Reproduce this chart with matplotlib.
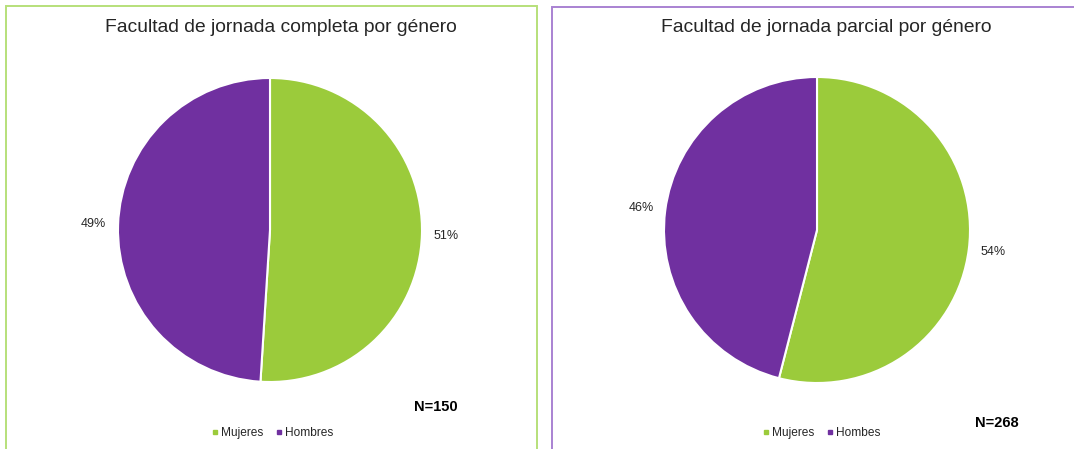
import matplotlib
matplotlib.use("Agg")
import matplotlib.pyplot as plt
from matplotlib.patches import Rectangle
from matplotlib.lines import Line2D

plt.rcParams["font.family"] = ["Liberation Sans", "DejaVu Sans"]

W, H = 1074, 449
GREEN = "#9BCB3B"
PURPLE = "#7030A0"
GREEN_BORDER = "#B7E07A"
PURPLE_BORDER = "#A982D2"
TEXT = "#262626"

# datos
categorias = ["Mujeres", "Hombres"]
completa_pct = [51, 49]
parcial_pct = [54, 46]
titulo_completa = "Facultad de jornada completa por género"
titulo_parcial = "Facultad de jornada parcial por género"
n_completa = "N=150"
n_parcial = "N=268"
leyenda_completa = ["Mujeres", "Hombres"]
leyenda_parcial = ["Mujeres", "Hombes"]


def px_box(x0, y0, w, h):
    # caja en pixeles (origen arriba-izquierda) -> fracción de figura
    return [x0 / W, (H - y0 - h) / H, w / W, h / H]


fig = plt.figure(figsize=(W / 100, H / 100), dpi=100, facecolor="white")

# marcos de los paneles
fig.add_artist(Rectangle((6 / W, -0.05), (537 - 6) / W, 1.05 - 6.5 / H,
                         transform=fig.transFigure, fill=False,
                         edgecolor=GREEN_BORDER, linewidth=1.4))
fig.add_artist(Rectangle((552 / W, -0.05), 0.6, 1.05 - 7.5 / H,
                         transform=fig.transFigure, fill=False,
                         edgecolor=PURPLE_BORDER, linewidth=1.4))


def draw_pie(cx, cy, r, values, title, title_x, n_text, n_pos, legend_labels, legend_x):
    ax = fig.add_axes(px_box(cx - r, cy - r, 2 * r, 2 * r))
    ax.pie(values, colors=[GREEN, PURPLE], startangle=90, counterclock=False,
           labels=[f"{v}%" for v in values], labeldistance=1.16,
           textprops=dict(fontsize=9, color=TEXT),
           wedgeprops=dict(edgecolor="white", linewidth=1.5))
    for t in ax.texts:
        t.set_ha("center")
        t.set_va("center")
    ax.set_xlim(-1, 1)
    ax.set_ylim(-1, 1)
    ax.set_aspect("equal")

    fig.text(title_x / W, 1 - 27 / H, title, ha="center", va="center",
             fontsize=13.9, color=TEXT)
    fig.text(n_pos[0] / W, 1 - n_pos[1] / H, n_text, ha="center", va="center",
             fontsize=10.5, fontweight="bold", color="black")

    handles = [Line2D([], [], marker="s", linestyle="", markersize=3.5,
                      color=c) for c in (GREEN, PURPLE)]
    fig.legend(handles, legend_labels, loc="center", ncol=2,
               bbox_to_anchor=(legend_x / W, 1 - 433 / H), frameon=False,
               fontsize=8.6, handletextpad=0.1, columnspacing=0.9,
               handlelength=0.8, labelcolor=TEXT)


draw_pie(270, 230, 152, completa_pct, titulo_completa, 281, n_completa,
         (436, 407), leyenda_completa, 272)
draw_pie(817, 230, 153, parcial_pct, titulo_parcial, 826, n_parcial,
         (997, 423), leyenda_parcial, 821)

fig.savefig("out.png", dpi=100, facecolor="white")
